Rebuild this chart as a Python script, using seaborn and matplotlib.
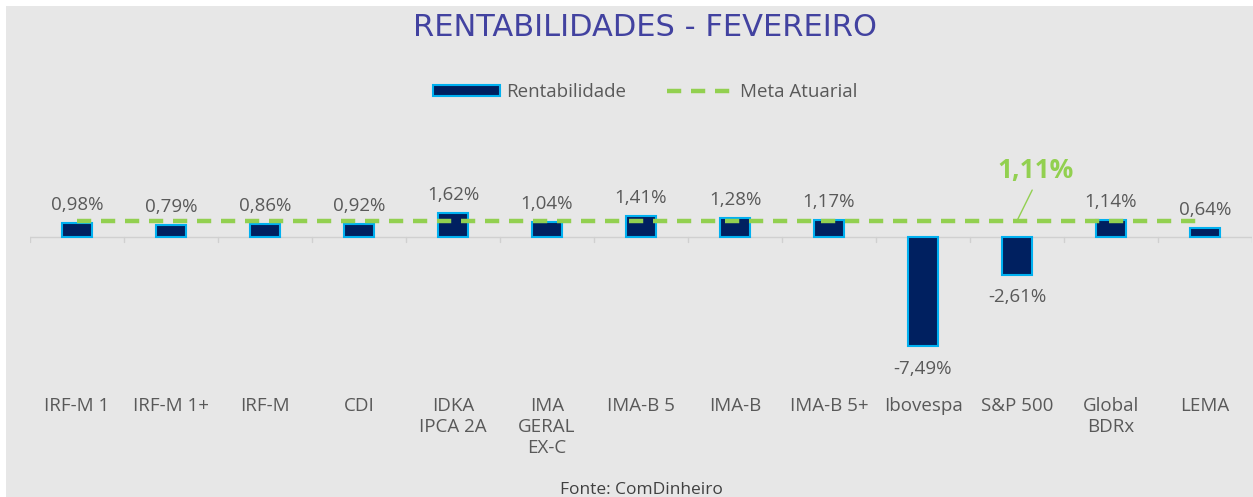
import matplotlib
matplotlib.use("Agg")
import matplotlib.pyplot as plt
import matplotlib.transforms as mtransforms
from matplotlib.patches import Patch, Rectangle
from matplotlib.lines import Line2D
import seaborn as sns
import pandas as pd

categories = ["IRF-M 1", "IRF-M 1+", "IRF-M", "CDI", "IDKA\nIPCA 2A", "IMA\nGERAL\nEX-C",
              "IMA-B 5", "IMA-B", "IMA-B 5+", "Ibovespa", "S&P 500", "Global\nBDRx", "LEMA"]
values = [0.98, 0.79, 0.86, 0.92, 1.62, 1.04, 1.41, 1.28, 1.17, -7.49, -2.61, 1.14, 0.64]
meta = 1.11
title = "RENTABILIDADES - FEVEREIRO"
source = "Fonte: ComDinheiro"

BG = "#e7e7e7"
NAVY = "#002060"
EDGE = "#00b0f0"
GREEN = "#92d050"
GRAY = "#595959"
FS = 13.5

sns.set_theme(style="white")
plt.rcParams["font.family"] = ["Open Sans", "DejaVu Sans"]

fig = plt.figure(figsize=(12.53, 4.97), dpi=100)
fig.patch.set_facecolor(BG)
W, H = 1253, 497
# white margins at top and left
fig.patches.append(Rectangle((0, 1 - 6 / H), 1, 6 / H, transform=fig.transFigure,
                             facecolor="white", edgecolor="none", zorder=-10))
fig.patches.append(Rectangle((0, 0), 6 / W, 1, transform=fig.transFigure,
                             facecolor="white", edgecolor="none", zorder=-10))

ax = fig.add_axes([30 / W, 1 - 385 / H, 1222 / W, 245 / H])
ax.set_facecolor(BG)

df = pd.DataFrame({"cat": categories, "val": values})
sns.barplot(data=df, x="cat", y="val", ax=ax, color=NAVY, width=0.32,
            edgecolor=EDGE, linewidth=1.5, saturation=1)

ppp = 14.6
ax.set_ylim(-148 / ppp, 97 / ppp)
ax.set_xlim(-0.5, len(categories) - 0.5)

# zero line and boundary ticks
ax.axhline(0, color="#d0d0d0", lw=1, zorder=0)
for b in range(len(categories) + 1):
    ax.plot([b - 0.5, b - 0.5], [0, -5 / ppp], color="#d0d0d0", lw=1, zorder=0)

for s in ax.spines.values():
    s.set_visible(False)
ax.set_xticks([])
ax.set_yticks([])
ax.set_xlabel("")
ax.set_ylabel("")

# meta line
ax.hlines(meta, 0, len(categories) - 1, colors=GREEN, lw=3.2,
          linestyles=(0, (3.2, 2.2)), zorder=5)

# data labels
for i, v in enumerate(values):
    txt = f"{v:.2f}%".replace(".", ",")
    off = 13 if v >= 0 else -16
    ax.annotate(txt, (i, v), xytext=(0, off), textcoords="offset points",
                ha="center", va="center", fontsize=FS, color=GRAY)

# meta label with leader
ax.annotate(f"{meta:.2f}%".replace(".", ","), (10, meta), xytext=(13, 36),
            textcoords="offset points", ha="center", va="center",
            fontsize=19, fontweight="bold", color=GREEN,
            arrowprops=dict(arrowstyle="-", color=GREEN, lw=1,
                            shrinkA=2, shrinkB=0, relpos=(0.5, 0.0)))

# category labels
trans = mtransforms.blended_transform_factory(ax.transData, fig.transFigure)
for i, c in enumerate(categories):
    ax.text(i, 1 - 397 / H, c, transform=trans, ha="center", va="top",
            fontsize=FS, color=GRAY, linespacing=1.2)

fig.text(645 / W, 1 - 27 / H, title, ha="center", va="center",
         fontsize=22, color="#4242a0", family=["DejaVu Sans"])

handles = [Patch(facecolor=NAVY, edgecolor=EDGE, linewidth=1.5),
           Line2D([0], [0], color=GREEN, lw=3.2, linestyle=(0, (3.2, 2.2)))]
fig.legend(handles, ["Rentabilidade", "Meta Atuarial"], loc="center",
           bbox_to_anchor=(645 / W, 1 - 92 / H), ncol=2, frameon=False,
           fontsize=FS, labelcolor=GRAY, handlelength=3.6, handleheight=0.55,
           handletextpad=0.3, columnspacing=2.2)

fig.text(641 / W, 1 - 490 / H, source, ha="center", va="center",
         fontsize=12.5, color="#404040")

fig.savefig("out.png", dpi=100, facecolor=BG)
